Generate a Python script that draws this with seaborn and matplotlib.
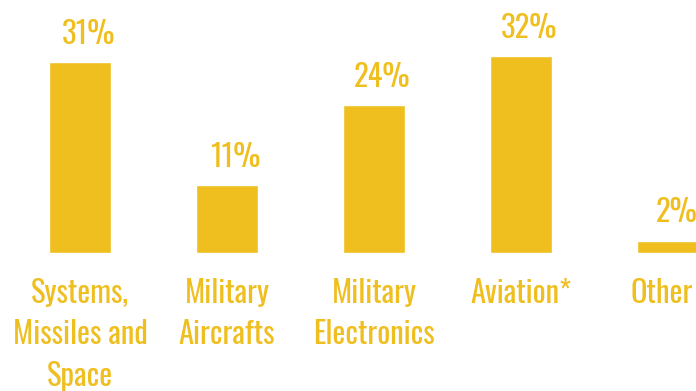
import matplotlib
matplotlib.use("Agg")
import matplotlib.pyplot as plt
import matplotlib.transforms as mtransforms
import seaborn as sns
import pandas as pd

categories = ["Systems,\nMissiles and\nSpace", "Military\nAircrafts", "Military\nElectronics", "Aviation*", "Other"]
shares = [31, 11, 24, 32, 2]
share_labels = ["31%", "11%", "24%", "32%", "2%"]

YELLOW = "#EFBF20"

sns.set_theme(style="white")
plt.rcParams["font.family"] = ["Oswald", "Roboto Condensed", "DejaVu Sans"]

df = pd.DataFrame({"segment": categories, "share": shares})

fig = plt.figure(figsize=(6.96, 3.91), dpi=100)
ax = fig.add_axes([0, 0.353, 1, 0.647])

sns.barplot(data=df, x="segment", y="share", color=YELLOW, saturation=1,
            width=0.42, ax=ax)

ax.set_xlim(-0.544, 4.190)
ax.set_ylim(0, 41.1)

for i, (v, lab) in enumerate(zip(shares, share_labels)):
    ax.annotate(lab, xy=(i, v), xytext=(6, 9), textcoords="offset points",
                ha="center", va="bottom", fontsize=22, color=YELLOW)

ax.set_xlabel("")
ax.set_ylabel("")
ax.set_yticks([])
ax.tick_params(axis="x", length=0, pad=18, labelsize=22, labelcolor=YELLOW)
labels = ax.get_xticklabels()
for t in labels:
    t.set_linespacing(1.42)
# nudge the right-most label so it stays inside the canvas
labels[-1].set_transform(labels[-1].get_transform()
                         + mtransforms.ScaledTranslation(-0.06, 0, fig.dpi_scale_trans))
for s in ax.spines.values():
    s.set_visible(False)

fig.savefig("out.png", dpi=100)
